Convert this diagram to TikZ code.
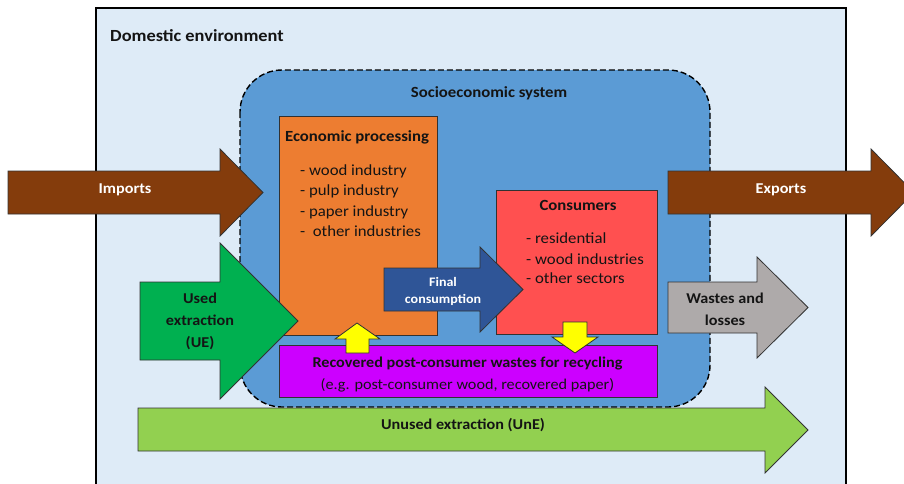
\documentclass[tikz,border=0pt]{standalone}
\usepackage{fontspec}
\setmainfont{Carlito}[FakeStretch=1.08]

\definecolor{envfill}{RGB}{222,235,247}
\definecolor{socfill}{RGB}{91,155,213}
\definecolor{econfill}{RGB}{237,125,49}
\definecolor{consfill}{RGB}{255,80,80}
\definecolor{recycfill}{RGB}{204,0,255}
\definecolor{tradefill}{RGB}{132,60,12}
\definecolor{usedfill}{RGB}{0,176,80}
\definecolor{finalfill}{RGB}{47,85,151}
\definecolor{wastefill}{RGB}{174,170,170}
\definecolor{unusedfill}{RGB}{146,208,80}
\definecolor{recfill}{RGB}{255,255,0}
\definecolor{outline}{RGB}{50,50,50}
\definecolor{ink}{RGB}{20,20,20}

\tikzset{
  blk/.style={draw=outline, line width=0.8pt},
  title/.style={font=\bfseries\fontsize{15.5}{18}\selectfont, text=ink, inner sep=0pt},
  item/.style={font=\fontsize{15.5}{18}\selectfont, text=ink, inner sep=0pt, anchor=base west},
  lbl/.style={font=\bfseries\fontsize{15}{18}\selectfont, text=ink, inner sep=0pt, anchor=base},
  wlbl/.style={lbl, text=white},
}

\begin{document}
\begin{tikzpicture}[x=1pt,y=-1pt]
  \useasboundingbox (0,0) rectangle (904,483);
  % domestic environment and socioeconomic system
  \draw[line width=1.8pt, fill=envfill] (96,8) rectangle (846,500);
  \node[title, anchor=base west, font=\bfseries\fontsize{17}{20}\selectfont] (env) at (110,41.5) {Domestic environment};
  \draw[dashed, dash pattern=on 6pt off 3pt, line width=1.4pt, fill=socfill, rounded corners=42pt] (240,70) rectangle (710,407);
  \node[title, anchor=base] (soc) at (489,97) {Socioeconomic system};

  % economic processing
  \draw[blk, fill=econfill] (279,116) rectangle (437,335);
  \node[title, anchor=base] (econ) at (357,141.5) {Economic processing};
  \node[item] (e1) at (300,175) {- wood industry};
  \node[item] (e2) at (300,195.5) {- pulp industry};
  \node[item] (e3) at (300,216) {- paper industry};
  \node[item] (e4) at (300,236) {-\ \ other industries};

  % consumers
  \draw[blk, fill=consfill] (496,190) rectangle (657,334);
  \node[title, anchor=base] (cons) at (578,210) {Consumers};
  \node[item] (c1) at (526,243.5) {- residential};
  \node[item] (c2) at (526,264) {- wood industries};
  \node[item] (c3) at (526,283.5) {- other sectors};

  % recycling
  \draw[blk, fill=recycfill] (279,345) rectangle (657,397);
  \node[lbl] (rec1) at (467.5,367.5) {Recovered post-consumer wastes for recycling};
  \node[lbl, font=\fontsize{15}{18}\selectfont] (rec2) at (467.5,389.5) {(e.g. post-consumer wood, recovered paper)};

  % flows
  \draw[blk, fill=tradefill] (8,171) -- (220,171) -- (220,149) -- (263,192.5) -- (220,236) -- (220,214) -- (8,214) -- cycle;
  \node[wlbl] (imp) at (125,193) {Imports};
  \draw[blk, fill=tradefill] (668,171) -- (871,171) -- (871,149) -- (914,192.5) -- (871,236) -- (871,214) -- (668,214) -- cycle;
  \node[wlbl] (exp) at (781,193) {Exports};

  \draw[blk, fill=usedfill] (140,282) -- (220,282) -- (220,243) -- (298,321) -- (220,399) -- (220,360) -- (140,360) -- cycle;
  \node[lbl] (ue1) at (200,303.5) {Used};
  \node[lbl] (ue2) at (200,325.5) {extraction};
  \node[lbl] (ue3) at (200,347) {(UE)};

  \draw[blk, fill=finalfill] (384,268) -- (480,268) -- (480,247) -- (523,289.5) -- (480,332) -- (480,311) -- (384,311) -- cycle;
  \node[wlbl, font=\bfseries\fontsize{13}{15}\selectfont] (fin1) at (443,286.5) {Final};
  \node[wlbl, font=\bfseries\fontsize{13}{15}\selectfont] (fin2) at (443,303) {consumption};

  \draw[blk, fill=wastefill] (668,282) -- (757,282) -- (757,257) -- (808,307.5) -- (757,358) -- (757,333) -- (668,333) -- cycle;
  \node[lbl] (w1) at (725,303.5) {Wastes and};
  \node[lbl] (w2) at (725,325) {losses};

  \draw[blk, fill=unusedfill] (138,408) -- (765,408) -- (765,387) -- (808,430) -- (765,473) -- (765,451) -- (138,451) -- cycle;
  \node[lbl] (une) at (463,429) {Unused extraction (UnE)};

  % recycling loop
  \draw[blk, fill=recfill] (346,353) -- (346,339) -- (335,339) -- (357,323) -- (380,339) -- (369,339) -- (369,353) -- cycle;
  \draw[blk, fill=recfill] (563,322) -- (587,322) -- (587,337) -- (598,337) -- (575,353) -- (552,337) -- (563,337) -- cycle;
\end{tikzpicture}
\end{document}
